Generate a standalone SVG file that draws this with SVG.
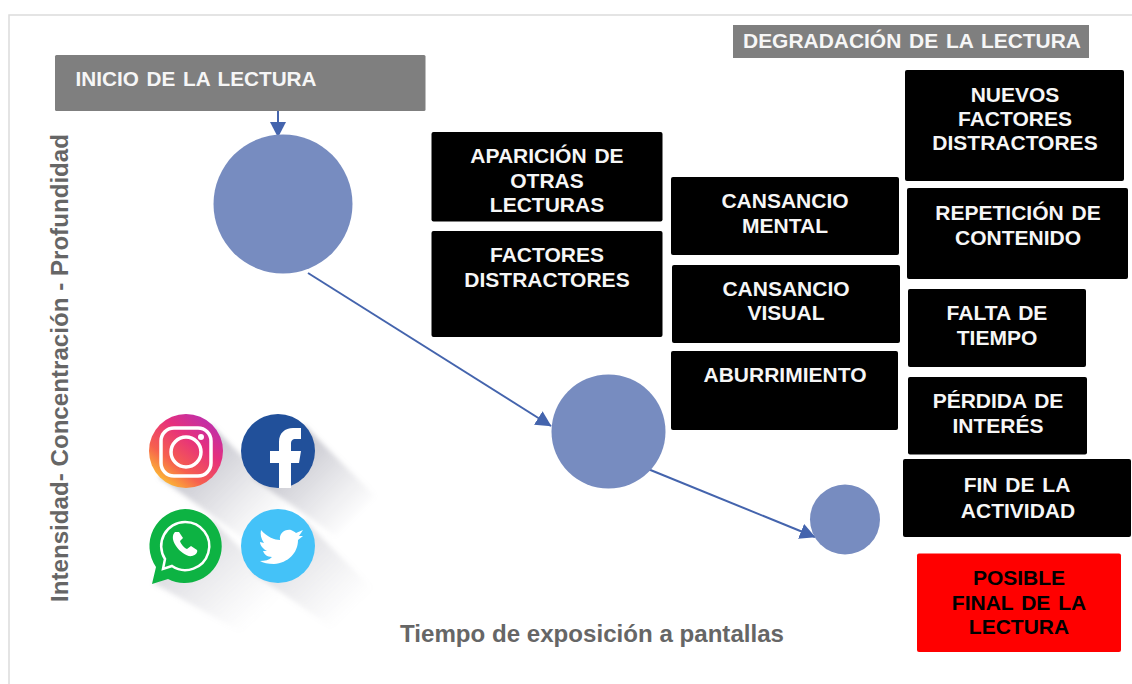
<svg xmlns="http://www.w3.org/2000/svg" width="1132" height="684" viewBox="0 0 1132 684">
<style>
text{font-family:"Liberation Sans",Arial,sans-serif;font-weight:bold;text-anchor:middle}
.b{fill:#000}
.w{fill:#f6f6f6;font-size:21px;word-spacing:2px}
.k{fill:#000;font-size:21px;word-spacing:2px}
.g{fill:#666;font-size:24px}
.c{fill:#778cc0}
.l{stroke:#4464ad;stroke-width:2;fill:none}
</style>
<defs>
<marker id="a" markerUnits="userSpaceOnUse" markerWidth="17" markerHeight="16" refX="15" refY="8" orient="auto"><path d="M0 0L15.500 8L0 16Z" fill="#4464ad"/></marker>
<linearGradient id="sh1" gradientUnits="userSpaceOnUse" x1="190" y1="450" x2="270" y2="530"><stop offset="0" stop-color="#8f8f9e" stop-opacity=".55"/><stop offset="1" stop-color="#a8a8b4" stop-opacity="0"/></linearGradient>
<linearGradient id="sh2" gradientUnits="userSpaceOnUse" x1="285" y1="450" x2="358" y2="523"><stop offset="0" stop-color="#8f8f9e" stop-opacity=".55"/><stop offset="1" stop-color="#a8a8b4" stop-opacity="0"/></linearGradient>
<linearGradient id="sh3" gradientUnits="userSpaceOnUse" x1="190" y1="550" x2="255" y2="620"><stop offset="0" stop-color="#8f8f9e" stop-opacity=".3"/><stop offset="1" stop-color="#a8a8b4" stop-opacity="0"/></linearGradient>
<linearGradient id="sh4" gradientUnits="userSpaceOnUse" x1="285" y1="545" x2="350" y2="612"><stop offset="0" stop-color="#8f8f9e" stop-opacity=".3"/><stop offset="1" stop-color="#a8a8b4" stop-opacity="0"/></linearGradient>
<filter id="bl" x="-20%" y="-20%" width="140%" height="140%"><feGaussianBlur stdDeviation="2.500"/></filter>
<linearGradient id="ig" x1="0.150" y1="0.950" x2="0.850" y2="0.050"><stop offset="0" stop-color="#fdc830"/><stop offset=".3" stop-color="#f6604e"/><stop offset=".65" stop-color="#e6307c"/><stop offset="1" stop-color="#b92fb0"/></linearGradient>
</defs>
<rect x="9" y="15" width="1130" height="680" fill="#fff" stroke="#dcdcdc" stroke-width="1.500"/>

<g id="sombras" filter="url(#bl)">
<path d="M211 425L300 514L262 552L159 477Z" fill="url(#sh1)"/>
<path d="M304 425L375 496L335 536L252 477Z" fill="url(#sh2)"/>
<path d="M212 520L288 596L248 636L153 583Z" fill="url(#sh3)"/>
<path d="M304 520L372 588L332 628L252 572Z" fill="url(#sh4)"/>
</g>

<g id="instagram">
<circle cx="186" cy="451" r="37" fill="url(#ig)"/>
<rect x="161" y="428" width="50" height="48" rx="13" fill="none" stroke="#fff" stroke-width="3.500"/>
<circle cx="186" cy="452" r="15" fill="none" stroke="#fff" stroke-width="3.500"/>
<circle cx="201" cy="437" r="3" fill="#fff"/>
</g>
<g id="facebook">
<circle cx="278" cy="451" r="37" fill="#21509a"/>
<path d="M279 488V463H270V451H279V442C279 433 285 428 293 428H301V439H296C292 439 291 441 291 444V451H301L299 463H291V488Z" fill="#fff"/>
</g>
<g id="whatsapp">
<path d="M185 509A37 37 0 1 1 168 579L152 584L156 567A37 37 0 0 1 185 509Z" fill="#0db343"/>
<path d="M185 522A24 24 0 1 1 172 566L163 569L165 559A24 24 0 0 1 185 522Z" fill="none" stroke="#fff" stroke-width="2.500"/>
<path d="M175 532C172 535 172 540 176 546C180 552 187 557 192 556C196 555 198 552 197 550L191 546L187 549C184 548 181 544 180 541L183 538L179 532Z" fill="#fff"/>
</g>
<g id="twitter">
<circle cx="278" cy="546" r="37" fill="#44c2f8"/>
<path d="M261 530C267 537 275 540 280 540C279 534 284 529 291 530C293 531 295 532 296 533L303 530L299 536L303 536L298 540C298 553 288 563 274 564C268 564 263 563 260 561C265 561 269 560 272 557C267 557 264 554 263 551H267C263 549 260 545 260 542L264 543C261 539 260 534 261 530Z" fill="#fff"/>
</g>

<g id="conectores">
<line class="l" x1="278" y1="111" x2="278" y2="137" marker-end="url(#a)"/>
<line class="l" x1="308" y1="273" x2="551" y2="426" marker-end="url(#a)"/>
<line class="l" x1="648" y1="469" x2="815" y2="537" marker-end="url(#a)"/>
</g>

<g id="circulo1"><circle class="c" cx="283" cy="204" r="69.500"/></g>
<g id="circulo2"><circle class="c" cx="608.500" cy="431.500" r="57"/></g>
<g id="circulo3"><circle class="c" cx="845" cy="519.500" r="35"/></g>

<g id="inicio"><rect x="55" y="55" width="370.500" height="56" rx="1.500" fill="#7f7f7f"/>
<text class="w" x="196" y="85.500" textLength="241" lengthAdjust="spacingAndGlyphs">INICIO DE LA LECTURA</text></g>
<g id="degradacion"><rect x="733" y="25" width="356" height="33" fill="#7f7f7f"/>
<text class="w" x="912" y="48" textLength="338" lengthAdjust="spacingAndGlyphs">DEGRADACIÓN DE LA LECTURA</text></g>

<g id="aparicion"><rect class="b" x="431.500" y="132" width="231" height="89.500" rx="2"/>
<text class="w" x="547" y="162.500">APARICIÓN DE</text><text class="w" x="547" y="187.500">OTRAS</text><text class="w" x="547" y="212">LECTURAS</text></g>
<g id="factores"><rect class="b" x="431.500" y="231" width="231" height="106" rx="2"/>
<text class="w" x="547" y="261.500">FACTORES</text><text class="w" x="547" y="286.500">DISTRACTORES</text></g>
<g id="cansancio-mental"><rect class="b" x="671" y="177" width="228" height="78" rx="2"/>
<text class="w" x="785" y="208">CANSANCIO</text><text class="w" x="785" y="232.500">MENTAL</text></g>
<g id="cansancio-visual"><rect class="b" x="672" y="265" width="228" height="78" rx="2"/>
<text class="w" x="786" y="296">CANSANCIO</text><text class="w" x="786" y="320">VISUAL</text></g>
<g id="aburrimiento"><rect class="b" x="671" y="351" width="227" height="79" rx="2"/>
<text class="w" x="785" y="382">ABURRIMIENTO</text></g>
<g id="nuevos"><rect class="b" x="905" y="70" width="219" height="111" rx="2"/>
<text class="w" x="1015" y="101.500">NUEVOS</text><text class="w" x="1015" y="126">FACTORES</text><text class="w" x="1015" y="150">DISTRACTORES</text></g>
<g id="repeticion"><rect class="b" x="907" y="188" width="221" height="91" rx="2"/>
<text class="w" x="1018" y="219.500">REPETICIÓN DE</text><text class="w" x="1018" y="244.500">CONTENIDO</text></g>
<g id="falta"><rect class="b" x="908" y="289" width="178" height="78" rx="2"/>
<text class="w" x="997" y="320">FALTA DE</text><text class="w" x="997" y="345">TIEMPO</text></g>
<g id="perdida"><rect class="b" x="908" y="377" width="179" height="77.500" rx="2"/>
<text class="w" x="998" y="408">PÉRDIDA DE</text><text class="w" x="998" y="432.500">INTERÉS</text></g>
<g id="fin"><rect class="b" x="903" y="459" width="228" height="78" rx="2"/>
<text class="w" x="1017" y="491.500">FIN DE LA</text><text class="w" x="1018" y="518">ACTIVIDAD</text></g>
<g id="posible"><rect x="917" y="553.500" width="204" height="98.500" rx="2" fill="#f00"/>
<text class="k" x="1019" y="584.500">POSIBLE</text><text class="k" x="1019" y="610">FINAL DE LA</text><text class="k" x="1019" y="634">LECTURA</text></g>

<text class="g" transform="translate(68 368) rotate(-90)" textLength="468" lengthAdjust="spacingAndGlyphs">Intensidad- Concentración - Profundidad</text>
<text class="g" x="592" y="642" textLength="384" lengthAdjust="spacingAndGlyphs">Tiempo de exposición a pantallas</text>
</svg>
